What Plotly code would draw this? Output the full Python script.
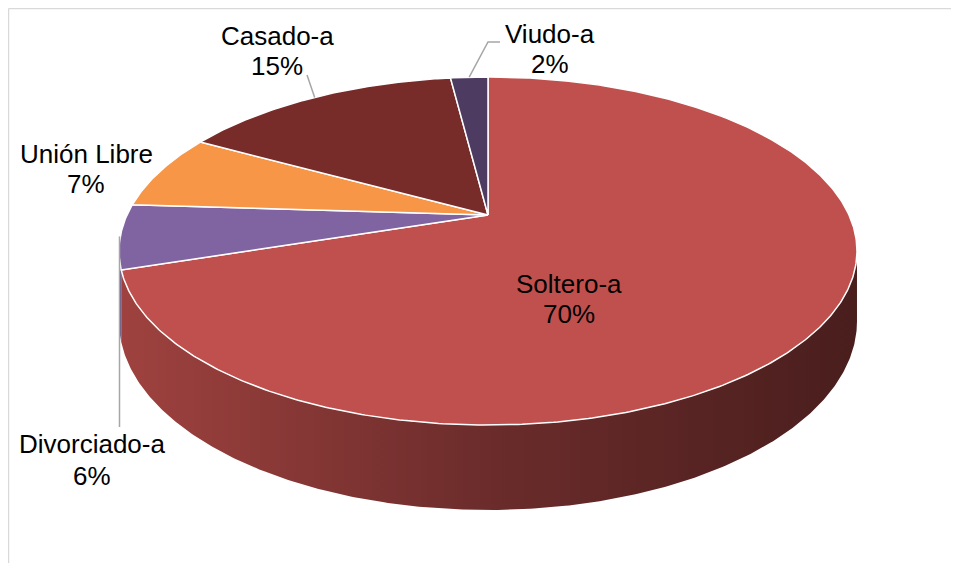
import numpy as np
import plotly.graph_objects as go

# ---- data ----
categories = ["Soltero-a", "Divorciado-a", "Unión Libre", "Casado-a", "Viudo-a"]
values = [70, 6, 7, 15, 2]

# ---- style ----
colors = ["#C0504D", "#8064A2", "#F79646", "#772C2A", "#4D3B62"]
side_factors = [0.83, 0.56, 0.385]
FONT = "Liberation Sans, Arial, sans-serif"
W, H = 961, 581
OFF = 8          # page body margin
FIG_W, FIG_H = 943, 555   # keep page from overflowing the window

# perspective parameters (pixel space) for the 3D pie
CX, A = 488.0, 361.0
Y0, C, K = 215.0, 122.07, 0.2069
D = 67.4


def proj(theta_deg, drop=0.0):
    t = np.radians(theta_deg)
    u, v = np.cos(t), np.sin(t)
    w = 1 + K * v
    return CX + A * u / w, (Y0 - C * v + D * drop) / w


TH_R = -np.degrees(np.arcsin(K))
TH_L = -180 - TH_R

total = float(sum(values))
starts, ends = [], []
acc = 0.0
for v in values:
    a0 = 90 - acc / total * 360
    a1 = a0 - v / total * 360
    starts.append(a0)
    ends.append(a1)
    acc += v


def hex_rgb(h):
    h = h.lstrip("#")
    return [int(h[i:i + 2], 16) for i in (0, 2, 4)]


fig = go.Figure()

gx0 = proj(TH_L)[0]
gx1 = proj(TH_R)[0]

# side walls
for i, col in enumerate(colors):
    hi = min(starts[i], TH_R)
    lo = max(ends[i], TH_L)
    if lo >= hi:
        continue
    n = max(int((hi - lo) * 2), 4)
    th = np.linspace(hi, lo, n)
    xt, yt = proj(th)
    xb, yb = proj(th[::-1], drop=1.0)
    xs = np.concatenate([xt, xb, xt[:1]])
    ys = np.concatenate([yt, yb, yt[:1]])
    r, g, b = hex_rgb(col)
    cs = [[p, f"rgb({int(r*f)},{int(g*f)},{int(b*f)})"]
          for p, f in zip([0, 0.5, 1], side_factors)]
    fig.add_trace(go.Scatter(
        x=xs, y=ys, mode="lines", fill="toself",
        line=dict(width=0, color=col),
        fillgradient=dict(type="horizontal", colorscale=cs, start=gx0, stop=gx1),
        hoverinfo="skip", showlegend=False))

# top faces
for i, col in enumerate(colors):
    n = max(int((starts[i] - ends[i]) * 2), 4)
    th = np.linspace(starts[i], ends[i], n)
    xa, ya = proj(th)
    xs = np.concatenate([[CX], xa, [CX]])
    ys = np.concatenate([[Y0], ya, [Y0]])
    fig.add_trace(go.Scatter(
        x=xs, y=ys, mode="lines", fill="toself", fillcolor=col,
        line=dict(width=1.5, color="white"),
        hoverinfo="skip", showlegend=False))

# labels: (x center, y line1, y line2)
label_pos = {
    "Soltero-a": (568.5, 284, 314),
    "Divorciado-a": (92, 444, 476),
    "Unión Libre": (86, 154, 184),
    "Casado-a": (277, 36, 66),
    "Viudo-a": (550, 34, 64),
}
annotations = []
for cat, v in zip(categories, values):
    x, y1, y2 = label_pos[cat]
    pct = f"{round(v / total * 100)}%"
    for txt, yy in ((cat, y1), (pct, y2)):
        annotations.append(dict(
            x=x, y=yy, xref="x", yref="y", text=txt, showarrow=False,
            xanchor="center", yanchor="middle",
            font=dict(family=FONT, size=26, color="black")))

# chart frame (top and left edges) + leader lines from slice rim midpoints
frame = dict(color="#D9D9D9", width=1.5)
shapes = [
    dict(type="line", x0=8.5, y0=8.5, x1=W, y1=8.5, xref="x", yref="y",
         line=frame, layer="below"),
    dict(type="line", x0=8.5, y0=8.5, x1=8.5, y1=H, xref="x", yref="y",
         line=frame, layer="below"),
]
leader_ends = {
    "Casado-a": [(307, 75)],
    "Viudo-a": [(488, 42), (500, 42)],
    "Divorciado-a": [(119.5, 427)],
}
for i, cat in enumerate(categories):
    if cat not in leader_ends:
        continue
    mx, my = proj((starts[i] + ends[i]) / 2)
    pts = [(float(mx), float(my))] + leader_ends[cat]
    if cat == "Divorciado-a":
        pts[0] = (pts[1][0], pts[0][1])
    path = "M " + " L ".join(f"{px:.1f},{py:.1f}" for px, py in pts)
    shapes.append(dict(type="path", path=path, xref="x", yref="y",
                       line=dict(color="#A6A6A6", width=1.5)))

fig.update_layout(
    width=FIG_W, height=FIG_H,
    margin=dict(l=0, r=0, t=0, b=0),
    paper_bgcolor="white", plot_bgcolor="white",
    xaxis=dict(range=[OFF, OFF + FIG_W], visible=False, fixedrange=True),
    yaxis=dict(range=[OFF + FIG_H, OFF], visible=False, fixedrange=True),
    annotations=annotations, shapes=shapes,
    showlegend=False,
)

fig.write_html("out.html")
